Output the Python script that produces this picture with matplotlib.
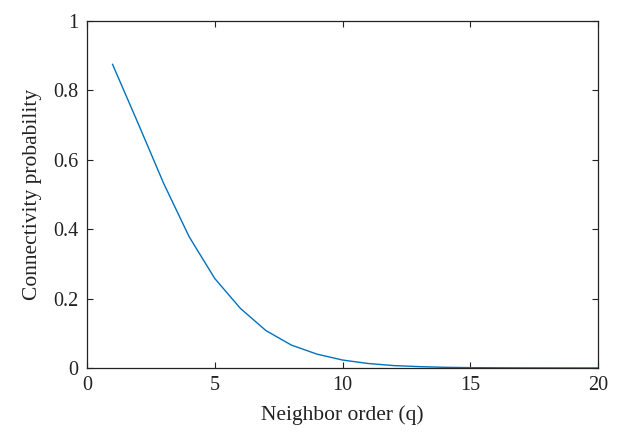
import matplotlib
matplotlib.use("Agg")
import matplotlib.pyplot as plt

# Connectivity probability vs neighbor order
neighbor_order = list(range(1, 21))
connectivity = [0.875, 0.705, 0.532, 0.378, 0.258, 0.172, 0.108, 0.066, 0.040, 0.023,
                0.013, 0.007, 0.004, 0.002, 0.001, 0.0006, 0.0003, 0.0002, 0.0001, 0.0001]

x_ticks = [0, 5, 10, 15, 20]
y_ticks = [0, 0.2, 0.4, 0.6, 0.8, 1]
y_tick_labels = ["0", "0.2", "0.4", "0.6", "0.8", "1"]

plt.rcParams["font.family"] = ["Liberation Serif", "DejaVu Serif"]

fig = plt.figure(figsize=(6.29, 4.32), dpi=100)
ax = fig.add_axes([87 / 629, 1 - 368 / 432, (598 - 87) / 629, (368 - 21) / 432])

ax.plot(neighbor_order, connectivity, color="#0072BD", linewidth=1.0)

ax.set_xlim(0, 20)
ax.set_ylim(0, 1)
ax.set_xticks(x_ticks)
ax.set_yticks(y_ticks)
ax.set_yticklabels(y_tick_labels)
ax.tick_params(direction="in", top=True, right=True, length=4, width=0.8,
               labelsize=14.5, colors="#222222", pad=6)
for spine in ax.spines.values():
    spine.set_linewidth(0.9)
    spine.set_color("#222222")

ax.set_xlabel("Neighbor order (q)", fontsize=15.5, color="#222222", labelpad=7)
ax.set_ylabel("Connectivity probability", fontsize=15.5, color="#222222", labelpad=8)

fig.savefig("out.png", dpi=100)
